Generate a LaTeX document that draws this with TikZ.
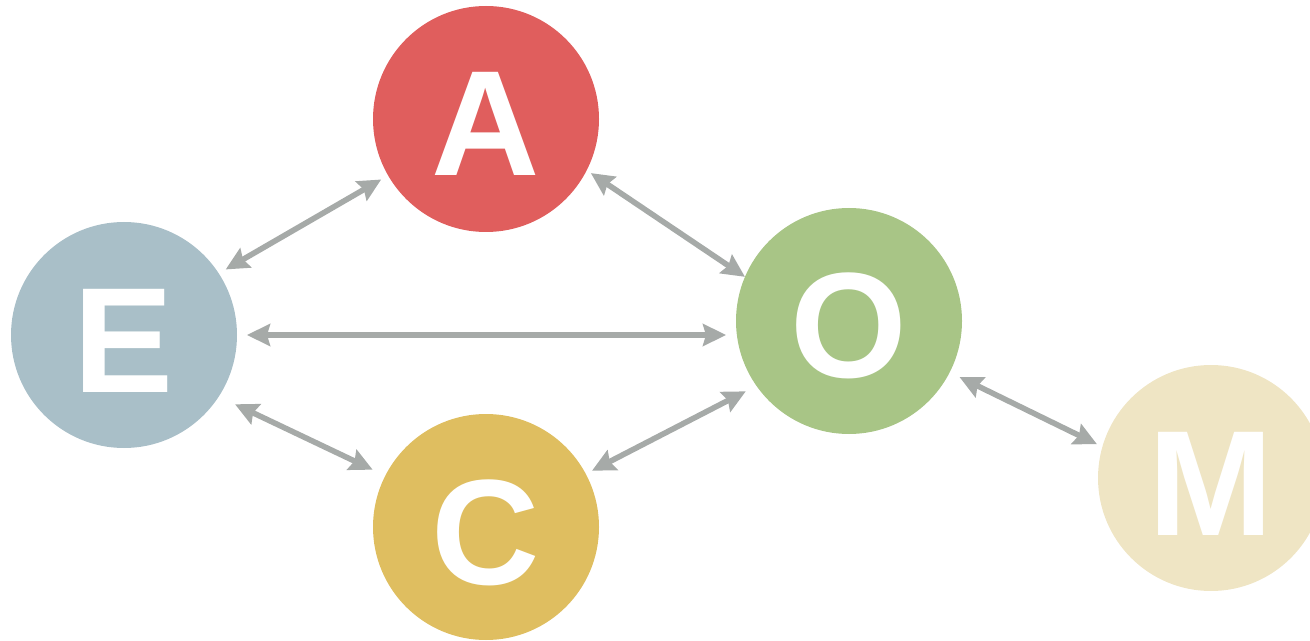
\documentclass[tikz,border=0pt]{standalone}
\usepackage{fontspec}
\setmainfont{Liberation Sans}
\usetikzlibrary{positioning,arrows.meta}
\definecolor{colE}{HTML}{A9BFC8}
\definecolor{colA}{HTML}{E05E5D}
\definecolor{colO}{HTML}{A8C586}
\definecolor{colC}{HTML}{DFBE60}
\definecolor{colM}{HTML}{EFE5C4}
\definecolor{colLink}{HTML}{A6AAA8}
\tikzset{
  ball/.style={circle, minimum size=113pt, inner sep=0pt, outer sep=0pt,
    text=white, font=\fontsize{75}{75}\selectfont\bfseries,
    text height=57pt, text depth=0pt},
  link/.style={draw=colLink, line width=2.8pt,
    {Stealth[length=11.5pt,width=11pt,inset=1.5pt]}-{Stealth[length=11.5pt,width=11pt,inset=1.5pt]}}
}

\begin{document}
\begin{tikzpicture}[x=0.5pt,y=-0.5pt]
\useasboundingbox (0,0) rectangle (1310,641);
\node[ball, fill=colE] (ne) at (124,335) {E};
\node[ball, fill=colA] (na) at (486,119) {A};
\node[ball, fill=colO] (no) at (849,321) {O};
\node[ball, fill=colC] (nc) at (486,527) {C};
\node[ball, fill=colM] (nm) at (1211,478) {M};
\path (ne.33) edge[link, shorten <=4pt, shorten >=4pt] (na.210)
(na.-27) edge[link, shorten <=2.5pt] (no.157)
(ne.east) edge[link, shorten <=5pt, shorten >=5pt] (ne.east -| no.west)
(ne.-33) edge[link, shorten <=9pt, shorten >=7pt] (nc.153)
(nc.28) edge[link, shorten <=3.5pt, shorten >=6pt] (no.215)
(no.-27) edge[link, shorten <=5.5pt, shorten >=3pt] (nm.164);
\end{tikzpicture}
\end{document}
